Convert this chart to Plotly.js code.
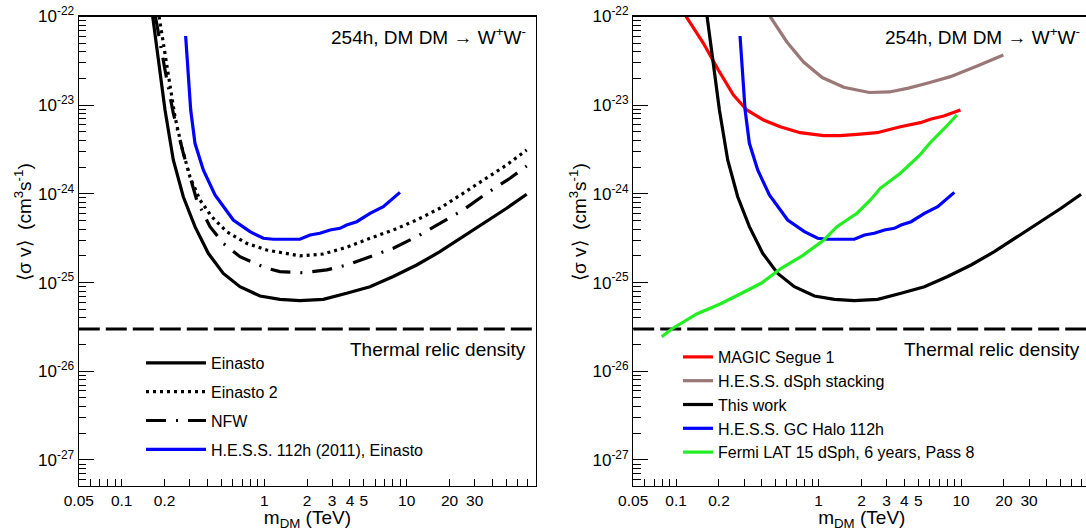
<!DOCTYPE html>
<html>
<head>
<meta charset="utf-8">
<script src="https://cdn.plot.ly/plotly-3.0.1.min.js"></script>
<style>
html,body{margin:0;padding:0;overflow:hidden;background:#fff;}
#plot{width:1092px;height:531px;}
</style>
</head>
<body>
<div id="plot"></div>
<script>
// ---------------- data (TeV, cm^3 s^-1) ----------------
const massEinasto = [0.165, 0.1807, 0.2014, 0.2302, 0.2706, 0.3268, 0.4053, 0.5164, 0.676, 0.935, 1.29, 1.78, 2.60, 3.79, 5.53, 8.05, 11.75, 17.1, 24.9, 36.4, 50.3, 69.5];
const sigvEinasto = [1.0e-22, 3.24e-23, 8.83e-24, 2.41e-24, 9.29e-25, 4.27e-25, 2.14e-25, 1.27e-25, 8.99e-26, 7.06e-26, 6.48e-26, 6.25e-26, 6.48e-26, 7.57e-26, 8.99e-26, 1.17e-25, 1.58e-25, 2.23e-25, 3.29e-25, 4.86e-25, 6.89e-25, 9.9e-25];

const massEinasto2 = [0.183, 0.196, 0.2124, 0.2366, 0.2636, 0.3013, 0.3544, 0.428, 0.546, 0.753, 1.04, 1.44, 1.78, 2.60, 3.79, 5.53, 8.05, 11.75, 17.1, 24.9, 36.4, 50.3, 69.5];
const sigvEinasto2 = [1.0e-22, 4.99e-23, 2.10e-23, 7.42e-24, 3.40e-24, 1.56e-24, 8.54e-25, 5.53e-25, 3.75e-25, 2.77e-25, 2.33e-25, 2.10e-25, 2.0e-25, 2.10e-25, 2.50e-25, 3.16e-25, 3.92e-25, 5.08e-25, 6.89e-25, 1.016e-24, 1.50e-24, 2.12e-24, 3.13e-24];

const massNFW = [0.172, 0.176, 0.2014, 0.2302, 0.2706, 0.336, 0.4166, 0.5164, 0.676, 1.04, 1.29, 1.88, 2.75, 3.79, 5.53, 8.05, 11.75, 17.1, 24.9, 36.4, 53.1, 69.5];
const sigvNFW = [1.0e-22, 8.38e-23, 2.49e-23, 8.11e-24, 2.87e-24, 8.54e-25, 4.27e-25, 2.77e-25, 1.96e-25, 1.45e-25, 1.33e-25, 1.29e-25, 1.39e-25, 1.58e-25, 1.96e-25, 2.44e-25, 3.29e-25, 4.66e-25, 6.58e-25, 1.016e-24, 1.50e-24, 2.06e-24];

const massHess112 = [0.281, 0.2934, 0.305, 0.3268, 0.3738, 0.4517, 0.607, 0.795, 0.985, 1.16, 1.78, 2.10, 2.46, 2.90, 3.40, 3.79, 4.46, 5.53, 6.85, 8.97];
const sigvHess112 = [6.03e-23, 2.10e-23, 8.83e-24, 3.72e-24, 1.86e-24, 9.72e-25, 5.08e-25, 3.75e-25, 3.16e-25, 3.08e-25, 3.08e-25, 3.44e-25, 3.60e-25, 3.92e-25, 4.09e-25, 4.46e-25, 4.86e-25, 6.04e-25, 7.18e-25, 1.04e-24];

const massMagic = [0.1175, 0.1555, 0.198, 0.2526, 0.3138, 0.4105, 0.5377, 0.743, 1.084, 1.42, 1.96, 2.57, 3.75, 5.18, 6.09, 7.55, 9.9];
const sigvMagic = [1.0e-22, 4.99e-23, 2.49e-23, 1.30e-23, 8.83e-24, 6.81e-24, 5.72e-24, 4.90e-24, 4.53e-24, 4.53e-24, 4.73e-24, 4.90e-24, 5.72e-24, 6.35e-24, 6.93e-24, 7.55e-24, 8.83e-24];

const massDsph = [0.457, 0.599, 0.784, 1.06, 1.50, 2.27, 3.14, 4.27, 5.78, 8.42, 12.97, 19.8];
const sigvDsph = [1.0e-22, 5.16e-23, 3.07e-23, 2.05e-23, 1.59e-23, 1.39e-23, 1.41e-23, 1.56e-23, 1.77e-23, 2.10e-23, 2.77e-23, 3.68e-23];

const massFermi = [0.0793, 0.0932, 0.1397, 0.2037, 0.2815, 0.3954, 0.5466, 0.767, 1.084, 1.346, 1.87, 2.31, 2.71, 3.75, 5.10, 6.09, 7.57, 9.35];
const sigvFermi = [2.45e-26, 3.0e-26, 4.43e-26, 5.74e-26, 7.44e-26, 9.82e-26, 1.45e-25, 2.0e-25, 3.0e-25, 4.27e-25, 6.09e-25, 8.54e-25, 1.156e-24, 1.71e-24, 2.71e-24, 3.80e-24, 5.39e-24, 7.75e-24];

const thermalRelic = 3e-26;
const massRange = [0.05, 80.8];
const sigvRange = [5.09e-28, 1e-22];

const xLabelVals = [0.05, 0.1, 0.2, 1, 2, 3, 4, 5, 10, 20, 30];
const xLabelText = ['0.05', '0.1', '0.2', '1', '2', '3', '4', '5', '10', '20', '30'];
const xDecadeVals = [0.1, 1, 10];
const yDecadeVals = [1e-27, 1e-26, 1e-25, 1e-24, 1e-23, 1e-22];
const yDecadeText = ['10<sup>-27</sup>', '10<sup>-26</sup>', '10<sup>-25</sup>', '10<sup>-24</sup>', '10<sup>-23</sup>', '10<sup>-22</sup>'];

// ---------------- helpers ----------------
const minorX = [];
[0.01, 0.1, 1, 10].forEach(d => { for (let k = 2; k <= 9; k++) { const v = +(k * d).toPrecision(3); if (v >= massRange[0] && v <= massRange[1] && xLabelVals.indexOf(v) < 0) minorX.push(v); } });
const minorY = [];
[1e-28, 1e-27, 1e-26, 1e-25, 1e-24, 1e-23].forEach(d => { for (let k = 2; k <= 9; k++) { const v = k * d; if (v >= sigvRange[0] && v <= sigvRange[1]) minorY.push(v); } });

const FONT = 'Liberation Sans, Arial, Helvetica, sans-serif';
const W = 1092, H = 531;
const px = v => v / W, py = v => 1 - v / H;
const domL = [px(78.8), px(536)];
const domR = [px(633.2), px(1090.4)];
const domY = [py(486), py(16.5)];
const xr = massRange.map(Math.log10);
const yr = sigvRange.map(Math.log10);

function xAxis(dom, anchor) {
  return {
    domain: dom, anchor: anchor, type: 'log', range: xr, fixedrange: true,
    tickmode: 'array', tickvals: xLabelVals, ticktext: xLabelText,
    ticks: 'inside', ticklen: 7, tickwidth: 1, tickcolor: '#000',
    minor: {tickmode: 'array', tickvals: minorX, ticks: 'inside', ticklen: 7, tickwidth: 1, tickcolor: '#000', showgrid: false},
    showline: true, linecolor: '#000', linewidth: 1.2, mirror: true,
    showgrid: false, zeroline: false,
    tickfont: {family: FONT, size: 15.5, color: '#000'},
    title: {text: 'm<sub>DM</sub> (TeV)', font: {family: FONT, size: 19, color: '#000'}, standoff: 2}
  };
}
function xOver(over, anchor) {
  return {
    overlaying: over, anchor: anchor, type: 'log', range: xr, fixedrange: true,
    tickmode: 'array', tickvals: xDecadeVals, showticklabels: false,
    ticks: 'inside', ticklen: 13, tickwidth: 1, tickcolor: '#000',
    showline: false, showgrid: false, zeroline: false
  };
}
function yAxis(anchor) {
  return {
    domain: domY, anchor: anchor, type: 'log', range: yr, fixedrange: true,
    tickmode: 'array', tickvals: yDecadeVals, ticktext: yDecadeText,
    ticks: 'inside', ticklen: 15, tickwidth: 1, tickcolor: '#000',
    minor: {tickmode: 'array', tickvals: minorY, ticks: 'inside', ticklen: 7.5, tickwidth: 1, tickcolor: '#000', showgrid: false},
    showline: true, linecolor: '#000', linewidth: 1.2, mirror: true,
    showgrid: false, zeroline: false,
    tickfont: {family: FONT, size: 17, color: '#000'}
  };
}

function line(name, x, y, color, dash, xa, ya, legend, group) {
  return {type: 'scatter', mode: 'lines', name: name, x: x, y: y, xaxis: xa, yaxis: ya,
    legend: legend, legendgroup: group, line: {color: color, width: 3.2, dash: dash}, hoverinfo: 'skip'};
}
function thermal(xa, ya) {
  return {type: 'scatter', mode: 'lines', x: massRange, y: [thermalRelic, thermalRelic], xaxis: xa, yaxis: ya,
    showlegend: false, line: {color: '#000', width: 3, dash: '21px,6px'}, hoverinfo: 'skip'};
}

const data = [
  thermal('x', 'y'),
  line('Einasto', massEinasto, sigvEinasto, '#000', 'solid', 'x', 'y', 'legend', 'a1'),
  line('Einasto 2', massEinasto2, sigvEinasto2, '#000', '3px,4px', 'x', 'y', 'legend', 'a2'),
  line('NFW', massNFW, sigvNFW, '#000', '20px,10px,2px,10px', 'x', 'y', 'legend', 'a3'),
  line('H.E.S.S. 112h (2011), Einasto', massHess112, sigvHess112, '#0000ff', 'solid', 'x', 'y', 'legend', 'a4'),
  thermal('x2', 'y2'),
  line('MAGIC Segue 1', massMagic, sigvMagic, '#ff0000', 'solid', 'x2', 'y2', 'legend2', 'b1'),
  line('H.E.S.S. dSph stacking', massDsph, sigvDsph, '#9a7878', 'solid', 'x2', 'y2', 'legend2', 'b2'),
  line('This work', massEinasto, sigvEinasto, '#000', 'solid', 'x2', 'y2', 'legend2', 'b3'),
  line('H.E.S.S. GC Halo 112h', massHess112, sigvHess112, '#0000ff', 'solid', 'x2', 'y2', 'legend2', 'b4'),
  line('Fermi LAT 15 dSph, 6 years, Pass 8', massFermi, sigvFermi, '#22ee22', 'solid', 'x2', 'y2', 'legend2', 'b5')
];

const txt = (text, x, y, opts) => Object.assign({text: text, xref: 'paper', yref: 'paper', x: x, y: y,
  showarrow: false, font: {family: FONT, size: 19, color: '#000'}}, opts || {});

const layout = {
  width: W, height: H, margin: {l: 0, r: 0, t: 0, b: 0},
  paper_bgcolor: '#fff', plot_bgcolor: '#fff',
  font: {family: FONT, color: '#000'},
  xaxis: xAxis(domL, 'y'), yaxis: yAxis('x'),
  xaxis2: xAxis(domR, 'y2'), yaxis2: yAxis('x2'),
  xaxis3: xOver('x', 'y'), xaxis4: xOver('x2', 'y2'),
  legend: {x: px(141), y: py(346), xanchor: 'left', yanchor: 'top', bgcolor: 'rgba(0,0,0,0)', itemwidth: 60,
    font: {family: FONT, size: 16, color: '#000'}, tracegroupgap: 5, traceorder: 'grouped'},
  legend2: {x: px(678), y: py(340), xanchor: 'left', yanchor: 'top', bgcolor: 'rgba(0,0,0,0)',
    font: {family: FONT, size: 16, color: '#000'}, tracegroupgap: 0, traceorder: 'grouped'},
  annotations: [
    txt('254h, DM DM \u2192 W<sup>+</sup>W<sup>-</sup>', px(528), py(36), {xanchor: 'right', yanchor: 'middle'}),
    txt('254h, DM DM \u2192 W<sup>+</sup>W<sup>-</sup>', px(1081.5), py(36), {xanchor: 'right', yanchor: 'middle'}),
    txt('Thermal relic density', px(528), py(349), {xanchor: 'right', yanchor: 'middle'}),
    txt('Thermal relic density', px(1081.5), py(349), {xanchor: 'right', yanchor: 'middle'}),
    txt('\u27E8\u03C3 v\u27E9  (cm<sup>3</sup>s<sup>-1</sup>)', px(23), py(222), {textangle: -90, xanchor: 'center', yanchor: 'middle'}),
    txt('\u27E8\u03C3 v\u27E9  (cm<sup>3</sup>s<sup>-1</sup>)', px(578), py(222), {textangle: -90, xanchor: 'center', yanchor: 'middle'})
  ]
};

Plotly.newPlot('plot', data, layout, {displayModeBar: false, staticPlot: true});
</script>
</body>
</html>
